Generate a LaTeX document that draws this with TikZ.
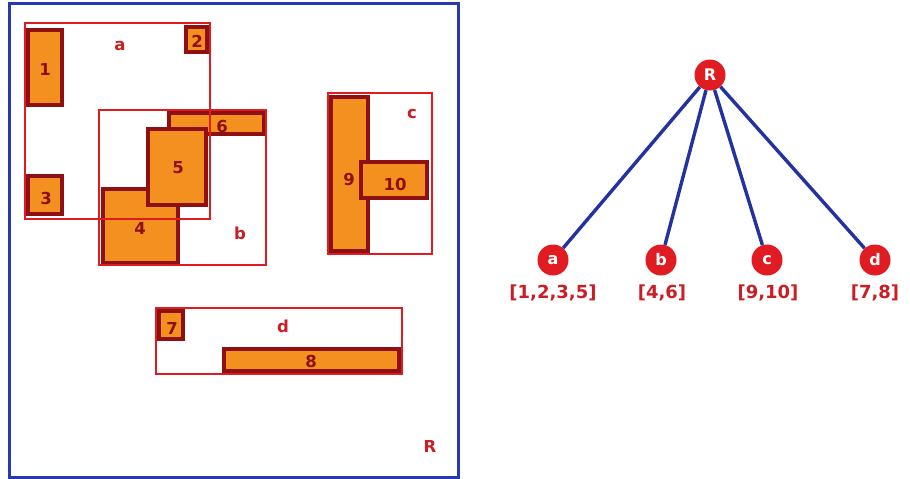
\documentclass[tikz,border=0pt]{standalone}
\usepackage{fontspec}
\setmainfont{DejaVu Sans}
\definecolor{leaforange}{HTML}{F39020}
\definecolor{leafdark}{HTML}{8E1010}
\definecolor{regionred}{HTML}{E01B22}
\definecolor{labelred}{HTML}{C81E24}
\definecolor{treeblue}{HTML}{2232A0}
\definecolor{outerblue}{HTML}{2838B0}

\begin{document}
\begin{tikzpicture}[x=1pt, y=-1pt,
  leaf/.style={fill=leaforange, draw=leafdark, line width=3.8pt},
  region/.style={draw=regionred, line width=2.6pt},
  leaflabel/.style={font=\fontsize{16.5}{19}\selectfont\bfseries, text=leafdark},
  regionlabel/.style={font=\fontsize{16.5}{19}\selectfont\bfseries, text=labelred},
  tnode/.style={circle, fill=regionred, text=white, minimum size=31pt, inner sep=0pt,
    font=\fontsize{16}{19}\selectfont\bfseries},
  listlabel/.style={font=\fontsize{18}{21}\selectfont\bfseries, text=labelred},
  edge/.style={draw=treeblue, line width=3.4pt}]
  \useasboundingbox (0,0) rectangle (910,479);

  % Root region R
  \draw[draw=outerblue, line width=3pt] (9,3) rectangle (458,477);
  \node[regionlabel] (lR) at (430,446) {R};

  % Leaf entries of a and b
  \draw[leaf] (28,30) rectangle (62,105);   % 1
  \draw[leaf] (186,27) rectangle (207,52);  % 2
  \draw[leaf] (28,176) rectangle (62,214);  % 3
  \draw[leaf] (103,189) rectangle (178,263); % 4
  \draw[leaf] (169,113) rectangle (264,134); % 6
  \draw[leaf] (148,129) rectangle (206,205); % 5

  % Regions a and b
  \draw[region] (25,23) rectangle (210,219);
  \draw[region] (99,110) rectangle (266,265);

  % Leaf entries of c
  \draw[leaf] (331,97) rectangle (368,251);  % 9
  \draw[leaf] (361,162) rectangle (427,198); % 10
  \draw[region] (328,93) rectangle (432,254);

  % Leaf entries of d
  \draw[leaf] (159,311) rectangle (183,339); % 7
  \draw[leaf] (224,349) rectangle (399,371); % 8
  \draw[region] (156,308) rectangle (402,374);

  % Labels
  \node[leaflabel] (l1) at (45,69) {1};
  \node[leaflabel] (l2) at (197,41) {2};
  \node[leaflabel] (l3) at (46,198) {3};
  \node[leaflabel] (l4) at (140,228) {4};
  \node[leaflabel] (l5) at (178,168) {5};
  \node[leaflabel] (l6) at (222,126) {6};
  \node[leaflabel] (l7) at (172,328) {7};
  \node[leaflabel] (l8) at (311,361) {8};
  \node[leaflabel] (l9) at (349,179) {9};
  \node[leaflabel] (l10) at (395,184) {10};
  \node[regionlabel] (la) at (120,46) {a};
  \node[regionlabel] (lb) at (240,233) {b};
  \node[regionlabel] (lc) at (412,114) {c};
  \node[regionlabel] (ld) at (283,326) {d};

  % Tree
  \node[tnode] (R) at (710,75) {R};
  \node[tnode] (a) at (553,260) {a};
  \node[tnode] (b) at (661,260) {b};
  \node[tnode] (c) at (767,260) {c};
  \node[tnode] (d) at (875,260) {d};
  \draw[edge] (R) -- (a);
  \draw[edge] (R) -- (b);
  \draw[edge] (R) -- (c);
  \draw[edge] (R) -- (d);

  % Entry lists
  \node[listlabel] (ta) at (553,293) {[1,2,3,5]};
  \node[listlabel] (tb) at (662,293) {[4,6]};
  \node[listlabel] (tc) at (768,293) {[9,10]};
  \node[listlabel] (td) at (875,293) {[7,8]};
\end{tikzpicture}
\end{document}
